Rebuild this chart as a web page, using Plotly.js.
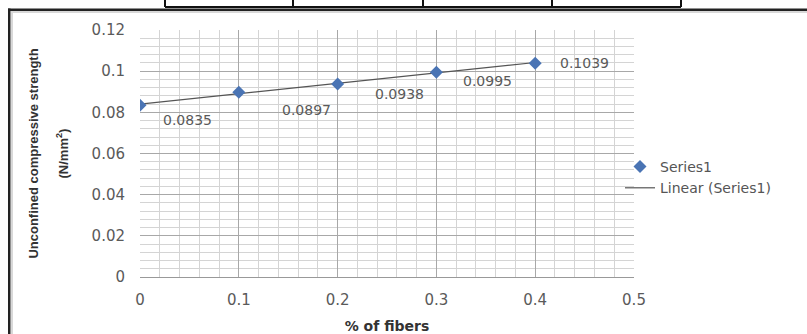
<!DOCTYPE html>
<html>
<head>
<meta charset="utf-8">
<script src="https://cdn.plot.ly/plotly-3.0.1.min.js"></script>
<style>html,body{margin:0;padding:0;background:#fff;}#chart{width:807px;height:334px;}</style>
</head>
<body>
<div id="chart"></div>
<script>
// ---- data ----
const fiberPct = [0, 0.1, 0.2, 0.3, 0.4];
const ucsValues = [0.0835, 0.0897, 0.0938, 0.0995, 0.1039];
const dataLabels = ["0.0835", "0.0897", "0.0938", "0.0995", "0.1039"];
const seriesName = "Series1";
const trendName = "Linear (Series1)";
const xTickVals = [0, 0.1, 0.2, 0.3, 0.4, 0.5];
const yTickVals = [0, 0.02, 0.04, 0.06, 0.08, 0.1, 0.12];
const yTitleLine1 = "Unconfined compressive strength";
const yTitleLine2 = "(N/mm<sup>2</sup>)";
const xTitle = "% of fibers";

// label offsets in pixels (position only)
const labelOffsets = [[47, -15], [68, -18], [62, -10], [51, -9], [49, 0]];

// least-squares linear trend computed from the data
const n = fiberPct.length;
const mx = fiberPct.reduce((a, b) => a + b, 0) / n;
const my = ucsValues.reduce((a, b) => a + b, 0) / n;
let sxy = 0, sxx = 0;
for (let i = 0; i < n; i++) { sxy += (fiberPct[i] - mx) * (ucsValues[i] - my); sxx += (fiberPct[i] - mx) ** 2; }
const slope = sxy / sxx, intercept = my - slope * mx;
const trendX = [fiberPct[0], fiberPct[n - 1]];
const trendY = trendX.map(x => intercept + slope * x);

const W = 807, H = 334, L = 140, R = 634, T = 30, B = 277;
const px = v => (v - L) / (R - L);
const py = v => (B - v) / (B - T);

const traces = [
  {x: trendX, y: trendY, mode: 'lines', type: 'scatter', name: trendName, legendgroup: 'b',
   line: {color: '#555', width: 1.2}},
  {x: fiberPct, y: ucsValues, mode: 'markers', type: 'scatter', name: seriesName, legendgroup: 'a',
   marker: {symbol: 'diamond', size: 10, color: '#4a74b4'}}
];

const tickFont = {family: 'DejaVu Sans', size: 15, color: '#5a5a5a'};
const labelFont = {family: 'DejaVu Sans', size: 14, color: '#5a5a5a'};
const annotations = fiberPct.map((x, i) => ({
  x: x, y: ucsValues[i], xref: 'x', yref: 'y', text: dataLabels[i], showarrow: false,
  xshift: labelOffsets[i][0], yshift: labelOffsets[i][1], font: labelFont
}));
annotations.push({x: px(62), y: py(153.5), xref: 'paper', yref: 'paper', text: '<b>' + yTitleLine2 + '</b>',
  textangle: -90, showarrow: false, xanchor: 'center', yanchor: 'middle',
  font: {family: 'Liberation Sans', size: 13, color: '#333'}});

const shapes = [];
const seg = (x0, y0, x1, y1, color, w) => shapes.push({type: 'line', xref: 'paper', yref: 'paper',
  x0: px(x0), y0: py(y0), x1: px(x1), y1: py(y1), line: {color: color, width: w}, layer: 'above'});
// table fragment at top
[165, 293, 423, 552, 681].forEach(x => seg(x, -2, x, 7, '#111', 2));
seg(165, 7, 681, 7, '#111', 2);
// outer frame: shadow then dark border (filled rects)
const bar = (x0, y0, x1, y1, color) => shapes.push({type: 'rect', xref: 'paper', yref: 'paper',
  x0: px(x0), y0: py(y0), x1: px(x1), y1: py(y1), line: {width: 0}, fillcolor: color, layer: 'above'});
bar(11, 11, 807, 13, '#d8d8d8');
bar(11, 11, 13, 334, '#d8d8d8');
bar(8, 8.5, 807, 11, '#222');
bar(8, 8.5, 10.5, 334, '#222');

const layout = {
  width: W, height: H,
  margin: {l: L, r: W - R, t: T, b: H - B, pad: 0},
  paper_bgcolor: '#fff', plot_bgcolor: '#fff',
  showlegend: true,
  legend: {x: px(620), y: py(151), xanchor: 'left', yanchor: 'top', font: {family: 'DejaVu Sans', size: 14, color: '#555'},
           tracegroupgap: 6, bgcolor: 'rgba(0,0,0,0)', traceorder: 'reversed'},
  xaxis: {range: [0, 0.5], tickvals: xTickVals, showgrid: true, gridcolor: '#a8a8a8', gridwidth: 1,
          minor: {dtick: 0.02, showgrid: true, gridcolor: '#d4d4d4', gridwidth: 1},
          zeroline: false, showline: true, linecolor: '#999', linewidth: 1, mirror: false,
          ticks: '', tickfont: tickFont, ticklabelstandoff: 9,
          title: {text: '<b>' + xTitle + '</b>', font: {family: 'DejaVu Sans', size: 14, color: '#333'}, standoff: 18}},
  yaxis: {range: [0, 0.12], tickvals: yTickVals, showgrid: true, gridcolor: '#a8a8a8', gridwidth: 1,
          minor: {dtick: 0.004, showgrid: true, gridcolor: '#d4d4d4', gridwidth: 1},
          zeroline: false, showline: false, ticks: '', tickfont: tickFont, ticklabelstandoff: 14,
          title: {text: '<b>' + yTitleLine1 + '</b>',
                  font: {family: 'Liberation Sans', size: 13, color: '#333'}, standoff: 50}},
  annotations: annotations,
  shapes: shapes
};

Plotly.newPlot('chart', traces, layout, {displayModeBar: false, staticPlot: true});
</script>
</body>
</html>
